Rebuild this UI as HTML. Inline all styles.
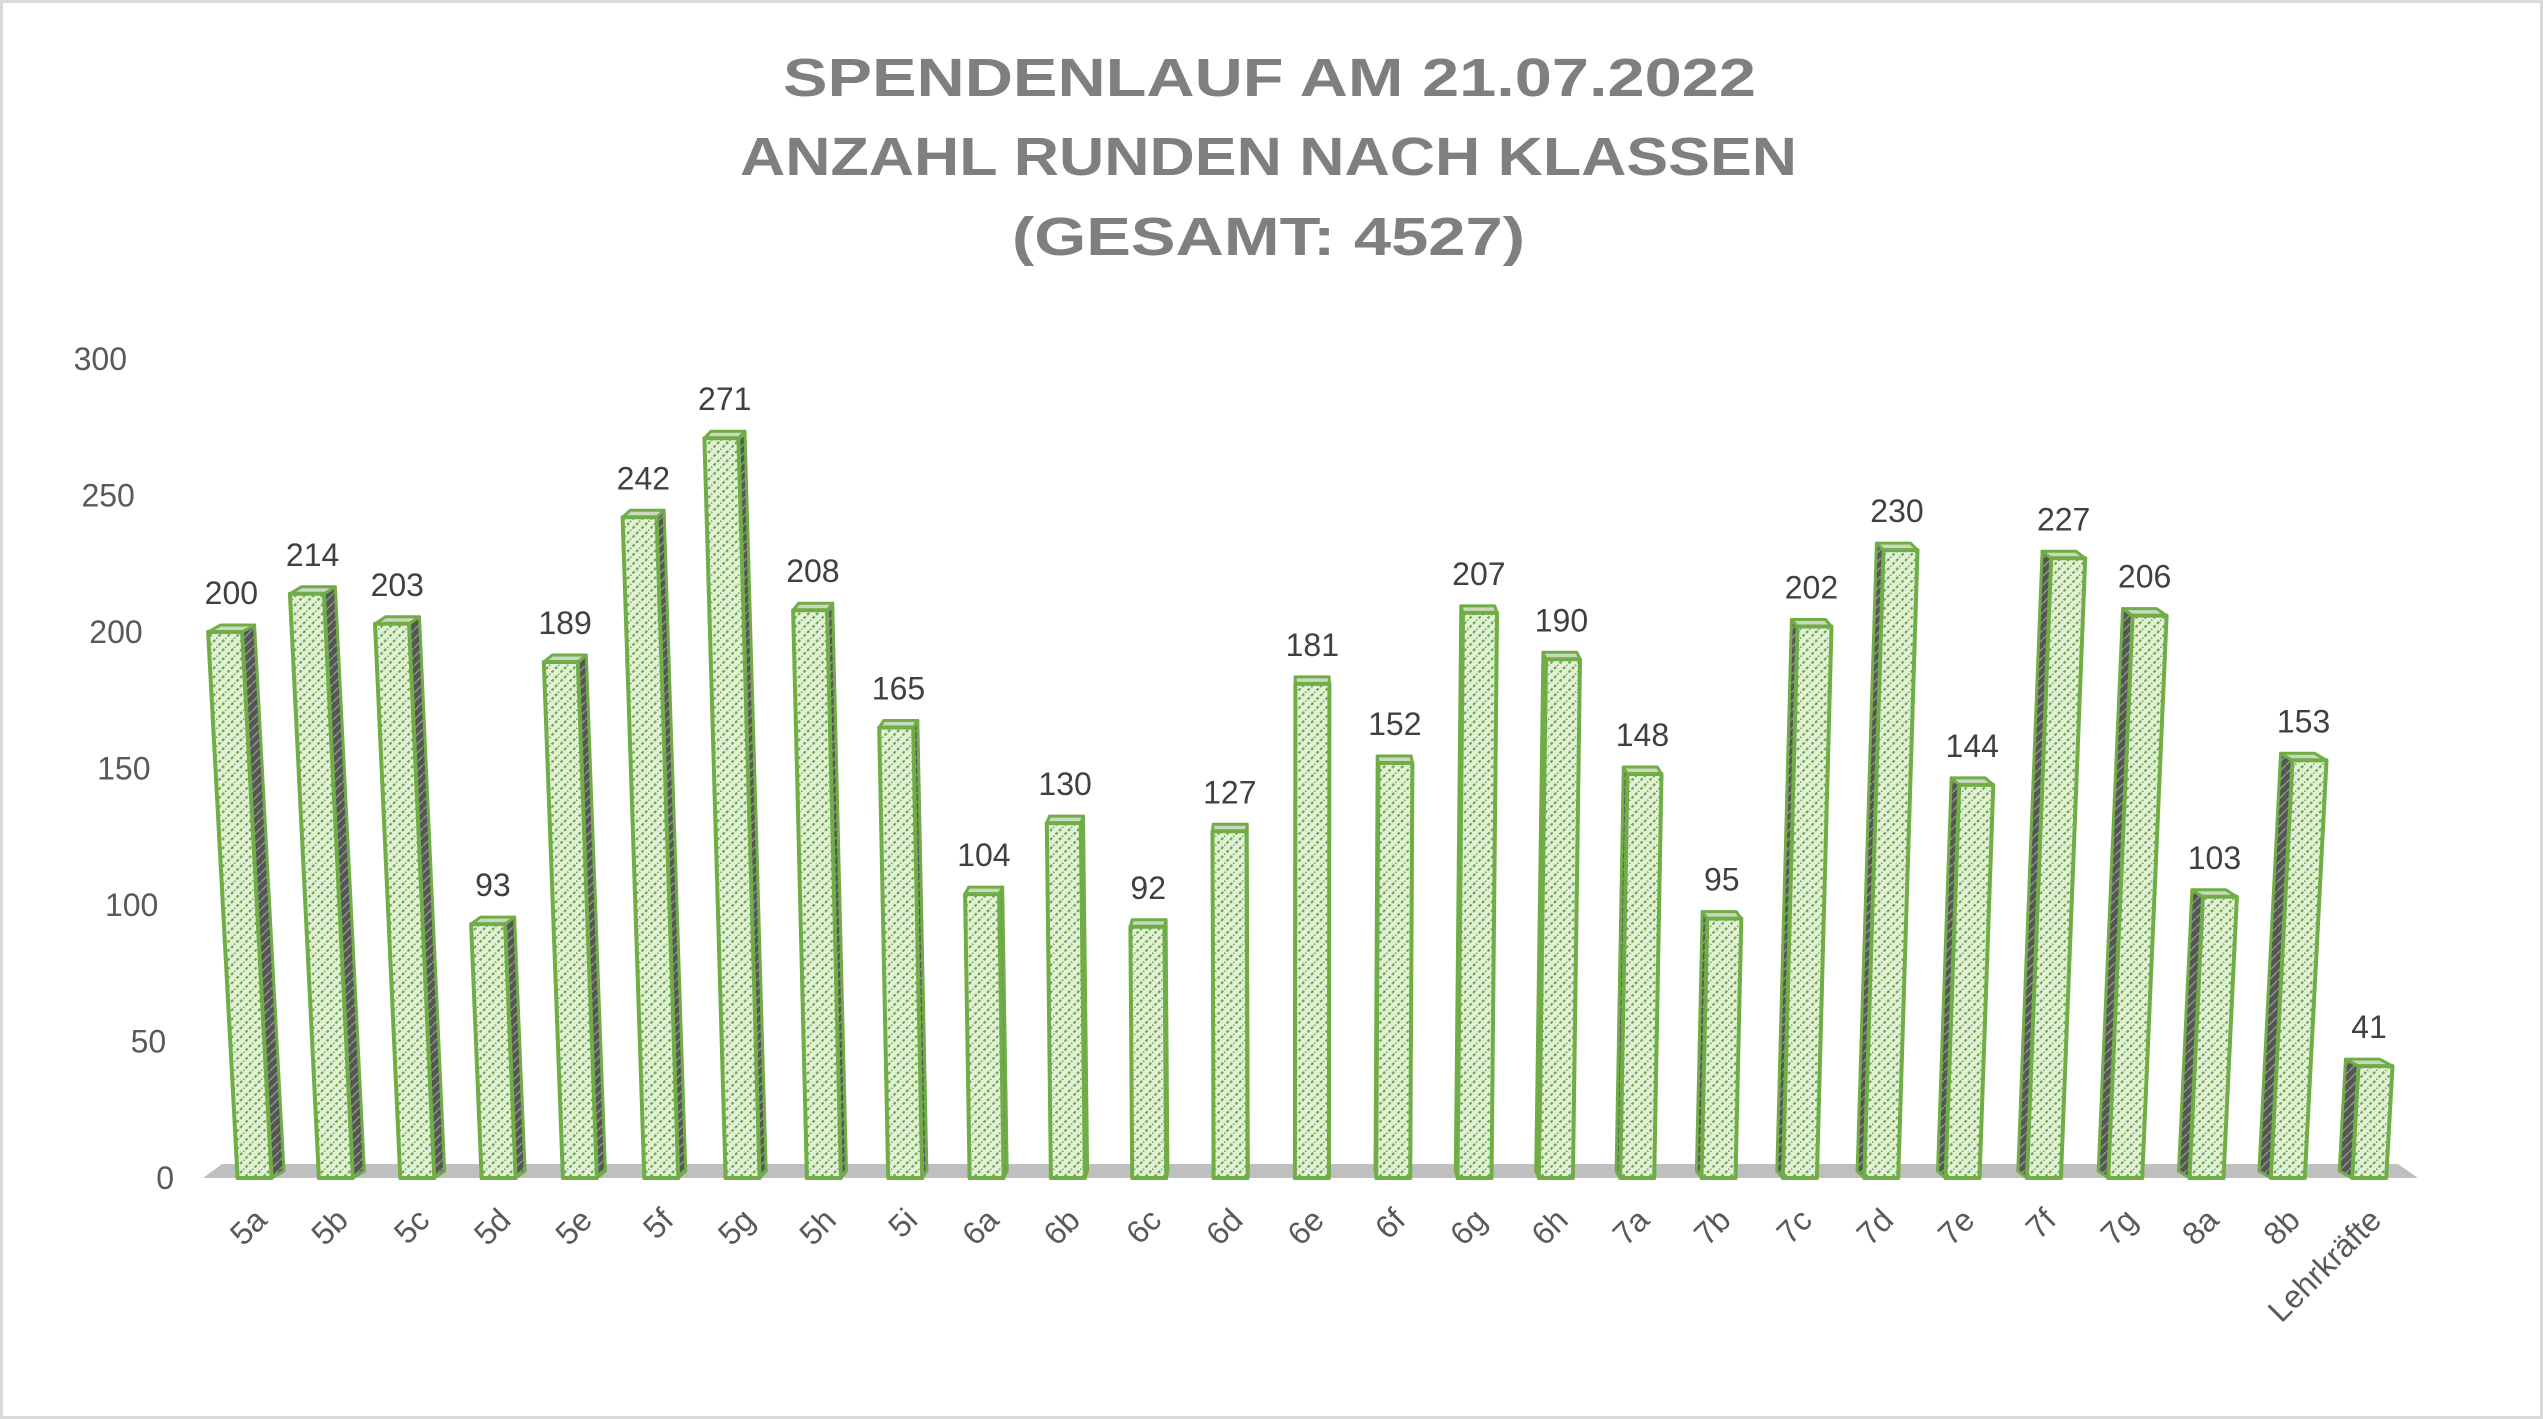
<!DOCTYPE html>
<html><head><meta charset="utf-8"><style>
html,body{margin:0;padding:0;background:#fff}
svg{display:block}
text{font-family:"Liberation Sans",sans-serif}
</style></head><body>
<svg id="chart" width="2543" height="1419" viewBox="0 0 2543 1419" xmlns="http://www.w3.org/2000/svg">
<defs>
<pattern id="hatch" width="9" height="9" patternUnits="userSpaceOnUse">
<rect width="9" height="9" fill="#e2f0d9"/>
<path d="M-1,10 L10,-1" stroke="#70ad47" stroke-width="2.2" stroke-dasharray="3 2"/>
</pattern>
<pattern id="hatchDark" width="9" height="9" patternUnits="userSpaceOnUse">
<rect width="9" height="9" fill="#555"/>
<path d="M-1,10 L10,-1" stroke="#8a9a80" stroke-width="1.5"/>
</pattern>
</defs>
<rect x="1.5" y="1.5" width="2540" height="1416" fill="#fff" stroke="#d9d9d9" stroke-width="3"/>
<g fill="#7f7f7f" font-weight="bold" font-size="54">
<text x="740" y="96" textLength="973" lengthAdjust="spacingAndGlyphs" dx="43">SPENDENLAUF AM 21.07.2022</text>
<text x="740" y="175" textLength="1057" lengthAdjust="spacingAndGlyphs">ANZAHL RUNDEN NACH KLASSEN</text>
<text x="1012" y="255" textLength="513" lengthAdjust="spacingAndGlyphs">(GESAMT: 4527)</text>
</g>
<polygon points="222,1164 2398,1164 2418,1178 203,1178" fill="#bfbfbf"/>
<g id="yaxis"></g>
<g id="bars"></g>
<g id="xaxis"></g>
</svg>
<script>
const categories = ["5a","5b","5c","5d","5e","5f","5g","5h","5i","6a","6b","6c","6d","6e","6f","6g","6h","7a","7b","7c","7d","7e","7f","7g","8a","8b","Lehrkräfte"];
const values = [200,214,203,93,189,242,271,208,165,104,130,92,127,181,152,207,190,148,95,202,230,144,227,206,103,153,41];
const yTicks = [0,50,100,150,200,250,300];

const NS = "http://www.w3.org/2000/svg";
const Y0 = 1178, YMAX = 300, PX_PER = (1176 - 357) / 300;
const X_FIRST = 254.6, STEP = 81.33, VX = 1291;
function yScale(v){ return Y0 - v * PX_PER; }
function xScale(i){ return X_FIRST + i * STEP; }
function mk(tag, attrs, parent){ const e = document.createElementNS(NS, tag); for (const k in attrs) e.setAttribute(k, attrs[k]); parent.appendChild(e); return e; }

const yaxis = document.getElementById('yaxis');
yTicks.forEach(t => {
  const tx = mk('text', {x: 127 + (300 - t) / 300 * 47, y: yScale(t) + 11, 'text-anchor': 'end', 'font-size': 32, fill: '#595959'}, yaxis);
  
  
  tx.textContent = t;
});

const bars = document.getElementById('bars');
const xaxis = document.getElementById('xaxis');
const HW = 17;
values.forEach((v, i) => {
  const xc = xScale(i);
  const h = v * PX_PER;
  const shift = h * (xc - VX) * 5.21e-5;
  const yb = Y0, yt = Y0 - h;
  const bl = [xc - HW, yb], br = [xc + HW, yb], tl = [xc - HW + shift, yt], tr = [xc + HW + shift, yt];
  const dx = -(xc - VX) * 0.012, dy = -7;
  const g = mk('g', {}, bars);
  
  
  const pts = a => a.map(p => p[0].toFixed(1) + ',' + p[1].toFixed(1)).join(' ');
  const off = p => [p[0] + dx, p[1] + dy];
  // side face
  let side;
  if (dx > 0) side = [br, tr, off(tr), off(br)];
  else side = [bl, tl, off(tl), off(bl)];
  const s = mk('polygon', {points: pts(side), fill: 'url(#hatchDark)', stroke: '#70ad47', 'stroke-width': 3, 'stroke-linejoin': 'round'}, g);
  
  
  const top = mk('polygon', {points: pts([tl, tr, off(tr), off(tl)]), fill: '#c9d9bf', stroke: '#70ad47', 'stroke-width': 3, 'stroke-linejoin': 'round'}, g);
  
  
  const f = mk('polygon', {points: pts([bl, tl, tr, br]), fill: 'url(#hatch)', stroke: '#70ad47', 'stroke-width': 4, 'stroke-linejoin': 'round'}, g);
  
  
  const lbl = mk('text', {x: xc + shift + dx / 2, y: yt - 28, 'text-anchor': 'middle', 'font-size': 32, fill: '#404040'}, g);
  
  
  lbl.textContent = v;
  const ax = xc + 14, ay = 1222;
  const xl = mk('text', {x: ax, y: ay, 'text-anchor': 'end', 'font-size': 32, fill: '#595959', transform: 'rotate(-45 ' + ax + ' ' + ay + ')'}, xaxis);
  
  
  xl.textContent = categories[i];
});
</script>
</body></html>
